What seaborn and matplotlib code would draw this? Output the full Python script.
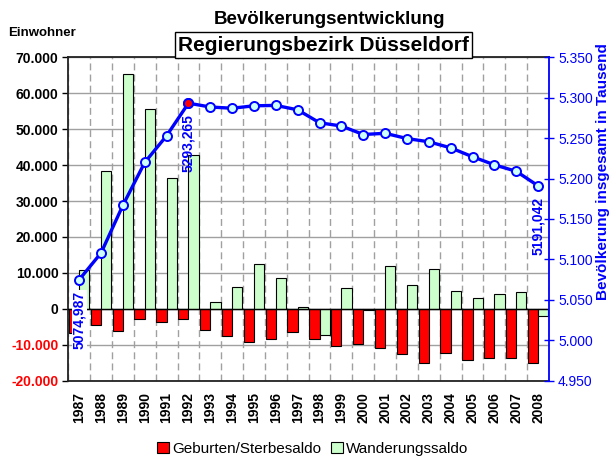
import matplotlib
matplotlib.use("Agg")
import matplotlib.pyplot as plt
from matplotlib.patches import Patch
import seaborn as sns
import numpy as np
import pandas as pd

jahre = ["1987", "1988", "1989", "1990", "1991", "1992", "1993", "1994", "1995", "1996", "1997",
         "1998", "1999", "2000", "2001", "2002", "2003", "2004", "2005", "2006", "2007", "2008"]
geburten_saldo = [-6700, -4600, -6200, -2900, -3700, -2700, -5900, -7600, -9200, -8400, -6500,
                  -8300, -10300, -9900, -10800, -12500, -15100, -12300, -14300, -13700, -13600, -15000]
wanderung_saldo = [10700, 38300, 65300, 55700, 36500, 42900, 1800, 6000, 12400, 8700, 600,
                   -7200, 5800, -300, 11900, 6600, 11000, 5000, 3100, 4200, 4800, -2100]
bevoelkerung = [5074.987, 5108, 5167, 5220, 5253, 5293.265, 5288.5, 5287, 5290, 5290.5, 5285,
                5269, 5265, 5254.5, 5256, 5249.5, 5245.5, 5238, 5227, 5217, 5209, 5191.042]
serien = ["Geburten/Sterbesaldo", "Wanderungssaldo"]
farben = {"Geburten/Sterbesaldo": "#ff0000", "Wanderungssaldo": "#ccffcc"}

sns.set_style("white")
plt.rcParams['font.family'] = ['Liberation Sans', 'DejaVu Sans']
plt.rcParams['text.color'] = "black"
plt.rcParams['xtick.color'] = "black"
plt.rcParams['ytick.color'] = "black"
plt.rcParams['axes.labelcolor'] = "black"

df = pd.DataFrame({
    "Jahr": jahre * 2,
    "Wert": geburten_saldo + wanderung_saldo,
    "Art": [serien[0]] * len(jahre) + [serien[1]] * len(jahre),
})

fig = plt.figure(figsize=(6.13, 4.58), dpi=100)
ax = fig.add_axes([0.1114, 0.1688, 0.7842, 0.7061])

sns.barplot(data=df, x="Jahr", y="Wert", hue="Art", hue_order=serien, palette=farben,
            saturation=1, width=0.94, edgecolor="black", linewidth=0.8, errorbar=None,
            legend=False, ax=ax)
ax.axhline(0, color="black", lw=1, zorder=3)

ax.set_ylim(-20000, 70000)
ax.set_yticks(np.arange(-20000, 70001, 10000))
ax.set_yticklabels([f"{v:,.0f}".replace(",", ".") for v in np.arange(-20000, 70001, 10000)],
                   fontweight="bold", fontsize=10)
for t, v in zip(ax.get_yticklabels(), np.arange(-20000, 70001, 10000)):
    t.set_color("red" if v < 0 else "black")
ax.set_xlabel("")
ax.set_ylabel("")
ax.tick_params(axis="x", labelrotation=90, length=0, pad=8, labelsize=10)
plt.setp(ax.get_xticklabels(), fontweight="bold")
ax.tick_params(axis="y", length=4, width=1, color="black", direction="out", pad=3)

ax.set_axisbelow(True)
ax.yaxis.grid(True, color="#a0a0a0", lw=1)
ax.set_xticks(np.arange(-0.5, len(jahre)), minor=True)
ax.tick_params(axis="x", which="minor", length=0)
ax.xaxis.grid(True, which="minor", color="#a0a0a0", lw=1, ls=(0, (5, 3)))
for s in ["left", "top", "bottom"]:
    ax.spines[s].set_color("#222222")
    ax.spines[s].set_linewidth(1.3)
ax.spines["right"].set_visible(False)

ax2 = ax.twinx()
idx = np.arange(len(jahre))
sns.lineplot(x=idx, y=bevoelkerung, ax=ax2, color="#0000ff", lw=2.4, marker="o",
             markersize=6.5, markerfacecolor="#ccffff", markeredgecolor="#0000ff",
             markeredgewidth=1.4)
imax = int(np.argmax(bevoelkerung))
ax2.plot(idx[imax], bevoelkerung[imax], "o", markersize=6.5, markerfacecolor="#ff0000",
         markeredgecolor="#0000ff", markeredgewidth=1.4)
ax2.set_ylim(4950, 5350)
ax2.set_yticks(np.arange(4950, 5351, 50))
ax2.set_yticklabels([f"{v:,.0f}".replace(",", ".") for v in np.arange(4950, 5351, 50)],
                    color="#0000ff", fontsize=10)
ax2.tick_params(axis="y", colors="#0000ff", direction="inout", length=7, width=1, pad=3)
ax2.set_ylabel("")
for s in ["left", "top", "bottom"]:
    ax2.spines[s].set_visible(False)
ax2.spines["right"].set_color("#0000ff")
ax2.spines["right"].set_linewidth(1.3)
ax.set_xlim(-0.5, len(jahre) - 0.5)

for i in [0, imax, len(jahre) - 1]:
    txt = f"{bevoelkerung[i]:.3f}".replace(".", ",")
    box = dict(facecolor="white", edgecolor="none", pad=0.5) if i == 0 else None
    ax2.annotate(txt, (idx[i], bevoelkerung[i]), xytext=(0, -8), textcoords="offset points",
                 rotation=90, ha="center", va="top", color="#0000ff", fontweight="bold",
                 fontsize=10, bbox=box)

fig.text(0.538, 0.9585, "Bevölkerungsentwicklung", ha="center", va="center",
         fontweight="bold", fontsize=13.5)
fig.text(0.5275, 0.9017, "Regierungsbezirk Düsseldorf", ha="center", va="center",
         fontweight="bold", fontsize=15,
         bbox=dict(boxstyle="square,pad=0.15", facecolor="white", edgecolor="black", lw=1))
fig.text(0.013, 0.928, "Einwohner", ha="left", va="center", fontweight="bold", fontsize=9.5)
fig.text(0.984, 0.6245, "Bevölkerung insgesamt in Tausend", rotation=90, ha="center",
         va="center", color="#0000ff", fontweight="bold", fontsize=11)

handles = [Patch(facecolor=farben[s], edgecolor="black", lw=0.8) for s in serien]
fig.legend(handles, serien, loc="lower center", bbox_to_anchor=(0.51, -0.025), ncol=2,
           frameon=False, fontsize=11, handlelength=0.8, handleheight=0.8,
           handletextpad=0.2, columnspacing=0.6)

fig.savefig("out.png", dpi=100)
